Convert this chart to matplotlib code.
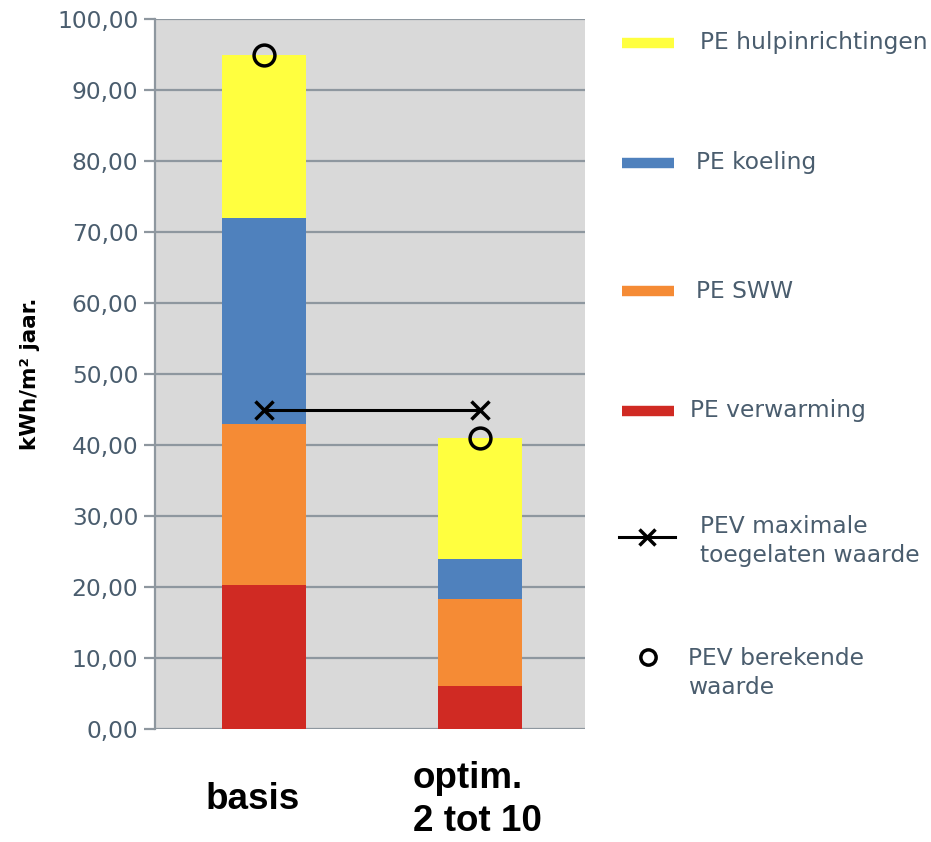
import matplotlib.pyplot as plt

# data (kWh/m2 jaar)
categories = ['basis', 'optim.\n2 tot 10']
pe_verwarming = [20.3, 6.1]
pe_sww = [22.7, 12.2]
pe_koeling = [29.0, 5.6]
pe_hulp = [22.9, 17.1]
pev_max = [45.0, 45.0]
pev_berekend = [95.0, 41.0]

series_labels = ['PE verwarming', 'PE SWW', 'PE koeling', 'PE hulpinrichtingen']
series_colors = ['#D02A23', '#F58B35', '#4F81BD', '#FFFF3F']
txt_color = '#4A5D6E'
grid_color = '#8E979F'

plt.rcParams['font.family'] = 'DejaVu Sans'

fig = plt.figure(figsize=(9.31, 8.42), dpi=100)
ax = fig.add_axes([0.1665, 0.1342, 0.4615, 0.8432])
ax.set_facecolor('#D9D9D9')

x = list(range(len(categories)))
bottom = [0.0, 0.0]
for vals, lab, col in zip([pe_verwarming, pe_sww, pe_koeling, pe_hulp], series_labels, series_colors):
    ax.bar(x, vals, width=0.39, bottom=bottom, color=col, label=lab, zorder=3)
    bottom = [b + v for b, v in zip(bottom, vals)]

ax.plot(x, pev_max, color='black', lw=2.2, marker='x', ms=13, mew=2.5, zorder=4)
ax.plot(x, pev_berekend, ls='none', marker='o', ms=15, mfc='none', mec='black', mew=2.5, zorder=5,
        clip_on=False)

ax.set_xlim(-0.505, 1.485)
ax.set_ylim(0, 100)
ax.set_yticks(range(0, 101, 10))
ax.set_yticklabels(['%d,00' % v for v in range(0, 101, 10)], fontsize=16.8, color=txt_color)
ax.yaxis.grid(True, color=grid_color, lw=1.6, zorder=1)
ax.tick_params(axis='y', length=8, width=1.6, color=grid_color, pad=4)

# category names under the bars
ax.set_xticks(x)
ax.set_xticklabels([])
ax.tick_params(axis='x', length=0)
for i, (cat, dx) in enumerate(zip(categories, [-8, -2])):
    ax.annotate(cat, xy=(i, 0), xycoords=('data', 'axes fraction'), xytext=(dx, -51),
                textcoords='offset points', ha='center', va='center', multialignment='left',
                fontsize=26.5, fontweight='bold', family='Liberation Sans', linespacing=1.3)

for side in ['top', 'right', 'bottom']:
    ax.spines[side].set_visible(False)
ax.spines['left'].set_color(grid_color)
ax.spines['left'].set_linewidth(1.6)

ax.set_ylabel('kWh/m² jaar.', fontsize=15.5, fontweight='bold', family='Liberation Sans Narrow',
              labelpad=12)

# legend drawn in pixel coordinates on an overlay
lax = fig.add_axes([0, 0, 1, 1])
lax.set_xlim(0, 931)
lax.set_ylim(842, 0)
lax.axis('off')

leg_y = [43, 163, 291, 411]
leg_tx = [700, 696, 696, 690]
for yy, tx, lab, col in zip(leg_y, leg_tx, series_labels[::-1], series_colors[::-1]):
    lax.plot([622, 674], [yy, yy], color=col, lw=7.5, solid_capstyle='butt')
    lax.text(tx, yy, lab, fontsize=16.8, color=txt_color, va='center', ha='left')

lax.plot([619, 675], [537, 537], color='black', lw=2.2)
lax.plot([647], [537], marker='x', ms=12, mew=2.5, color='black')
lax.text(700, 541, 'PEV maximale\ntoegelaten waarde', fontsize=16.8, color=txt_color,
         va='center', ha='left', linespacing=1.35)

lax.plot([648], [657], ls='none', marker='o', ms=11, mfc='none', mec='black', mew=2.5)
lax.text(688, 673, 'PEV berekende\nwaarde', fontsize=16.8, color=txt_color,
         va='center', ha='left', linespacing=1.35)

fig.savefig('out.png', dpi=100)
